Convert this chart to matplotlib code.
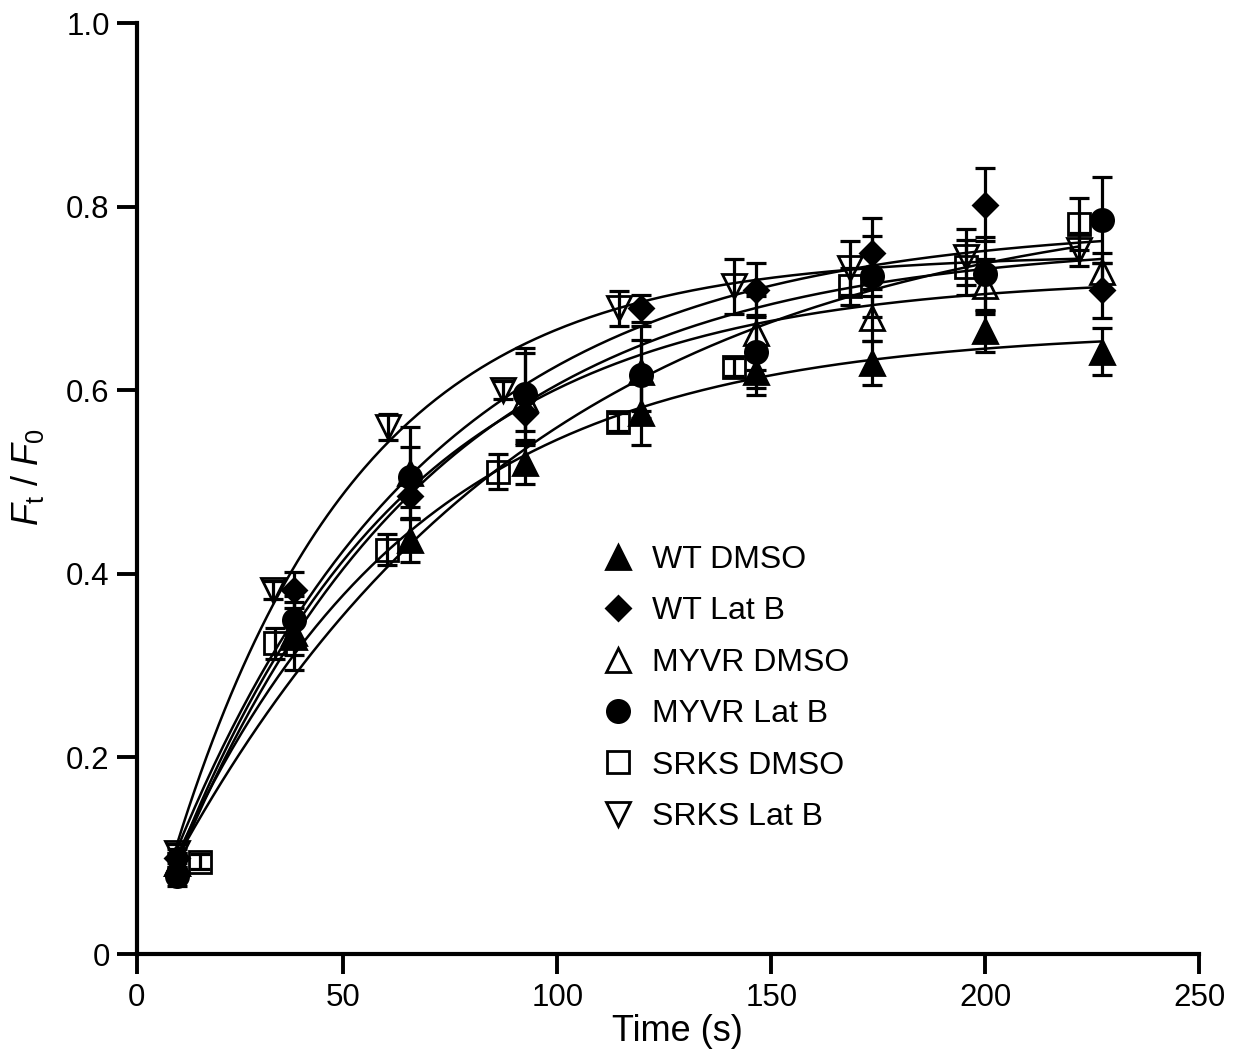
import matplotlib
matplotlib.use('Agg')
import matplotlib.pyplot as plt
import numpy as np
from matplotlib.lines import Line2D

plt.rcParams['font.family'] = ['Liberation Sans', 'DejaVu Sans']
plt.rcParams['mathtext.fontset'] = 'custom'
plt.rcParams['mathtext.rm'] = 'Liberation Sans'
plt.rcParams['mathtext.it'] = 'Liberation Sans:italic'

# time points (s)
t_main = [11, 38.5, 65.5, 92.5, 119.5, 146.5, 173.5, 200, 227.3]
t_srks_dmso = [16.5, 33.9, 60.3, 86.2, 114.3, 141.3, 168.3, 195.5, 222]
t_srks_latb = [11, 33.5, 60.5, 87.4, 114.5, 141.3, 168.3, 195.5, 222]

# Ft / F0 values and error bars
wt_dmso = [0.085, 0.331, 0.437, 0.520, 0.575, 0.620, 0.629, 0.664, 0.642]
wt_dmso_err = [0.010, 0.020, 0.024, 0.022, 0.035, 0.025, 0.024, 0.022, 0.026]
wt_latb = [0.090, 0.382, 0.484, 0.575, 0.689, 0.709, 0.749, 0.802, 0.709]
wt_latb_err = [0.010, 0.020, 0.025, 0.020, 0.015, 0.029, 0.039, 0.040, 0.030]
myvr_dmso = [0.085, 0.335, 0.510, 0.590, 0.620, 0.662, 0.678, 0.713, 0.729]
myvr_dmso_err = [0.010, 0.040, 0.050, 0.050, 0.050, 0.040, 0.025, 0.030, 0.020]
myvr_latb = [0.070, 0.349, 0.505, 0.596, 0.616, 0.642, 0.724, 0.727, 0.785]
myvr_latb_err = [0.010, 0.020, 0.033, 0.050, 0.039, 0.040, 0.044, 0.040, 0.047]
srks_dmso = [0.086, 0.324, 0.426, 0.511, 0.565, 0.625, 0.713, 0.734, 0.781]
srks_dmso_err = [0.008, 0.017, 0.017, 0.019, 0.010, 0.010, 0.020, 0.030, 0.028]
srks_latb = [0.095, 0.382, 0.560, 0.600, 0.689, 0.713, 0.733, 0.745, 0.753]
srks_latb_err = [0.010, 0.010, 0.014, 0.010, 0.019, 0.030, 0.029, 0.030, 0.018]

labels = ['WT DMSO', 'WT Lat B', 'MYVR DMSO', 'MYVR Lat B', 'SRKS DMSO', 'SRKS Lat B']


def fit_recovery(t, y):
    # y = c + A (1 - exp(-k t)), grid over k, linear lstsq for c, A
    t = np.asarray(t, float)
    y = np.asarray(y, float)
    best = None
    for k in np.linspace(0.002, 0.1, 1500):
        X = np.column_stack([np.ones_like(t), 1 - np.exp(-k * t)])
        coef, *_ = np.linalg.lstsq(X, y, rcond=None)
        sse = np.sum((X @ coef - y) ** 2)
        if best is None or sse < best[0]:
            best = (sse, k, coef)
    _, k, (c, A) = best
    return lambda tt: c + A * (1 - np.exp(-k * tt))


series = [
    (t_main, wt_dmso, wt_dmso_err, dict(marker='^', ms=17, mfc='black')),
    (t_main, wt_latb, wt_latb_err, dict(marker='D', ms=12.5, mfc='black')),
    (t_main, myvr_dmso, myvr_dmso_err, dict(marker='^', ms=17, mfc='none')),
    (t_main, myvr_latb, myvr_latb_err, dict(marker='o', ms=16, mfc='black')),
    (t_srks_dmso, srks_dmso, srks_dmso_err, dict(marker='s', ms=15.5, mfc='none')),
    (t_srks_latb, srks_latb, srks_latb_err, dict(marker='v', ms=17, mfc='none')),
]

fig = plt.figure(figsize=(12.41, 10.57), dpi=100)
ax = fig.add_axes([0.1102, 0.0974, 0.856, 0.8808])

t_start = min(t_main)
handles = []
for (t, y, e, st), lab in zip(series, labels):
    ax.errorbar(t, y, yerr=e, fmt='none', ecolor='black', elinewidth=2.3,
                capsize=7.5, capthick=2.3, zorder=2)
    ax.plot(t, y, linestyle='none', color='black', mec='black', mew=2, zorder=3, **st)
    f = fit_recovery(t, y)
    tt = np.linspace(t_start, max(t), 300)
    ax.plot(tt, f(tt), color='black', lw=1.8, zorder=4)
    handles.append(Line2D([], [], linestyle='none', color='black', mec='black', mew=2, label=lab, **st))

x0, y0 = 1.7, -0.0147
ax.set_xlim(x0, 250)
ax.set_ylim(y0, 1.0)
ax.set_xticks([x0, 50, 100, 150, 200, 250])
ax.set_xticklabels(['0', '50', '100', '150', '200', '250'])
ax.set_yticks([y0, 0.2, 0.4, 0.6, 0.8, 1.0])
ax.set_yticklabels(['0', '0.2', '0.4', '0.6', '0.8', '1.0'])

for s in ['top', 'right']:
    ax.spines[s].set_visible(False)
for s in ['left', 'bottom']:
    ax.spines[s].set_linewidth(3)
ax.tick_params(direction='out', length=14.5, width=2.8, labelsize=22.5)
ax.tick_params(axis='y', pad=5)
ax.tick_params(axis='x', pad=6)

ax.set_xlabel('Time (s)', fontsize=26)
ax.xaxis.set_label_coords(0.5086, -0.0645)
ax.set_ylabel(r'$F_\mathrm{t}$ / $F_\mathrm{0}$', fontsize=26)
ax.yaxis.set_label_coords(-0.085, 0.512)

ax.legend(handles=handles, loc='upper left', bbox_to_anchor=(602 / 1241, 1 - 545 / 1057),
          bbox_transform=fig.transFigure, frameon=False, fontsize=23,
          handlelength=1.0, handletextpad=0.55, labelspacing=0.67, borderpad=0,
          borderaxespad=0)

fig.savefig('out.png', dpi=100)
